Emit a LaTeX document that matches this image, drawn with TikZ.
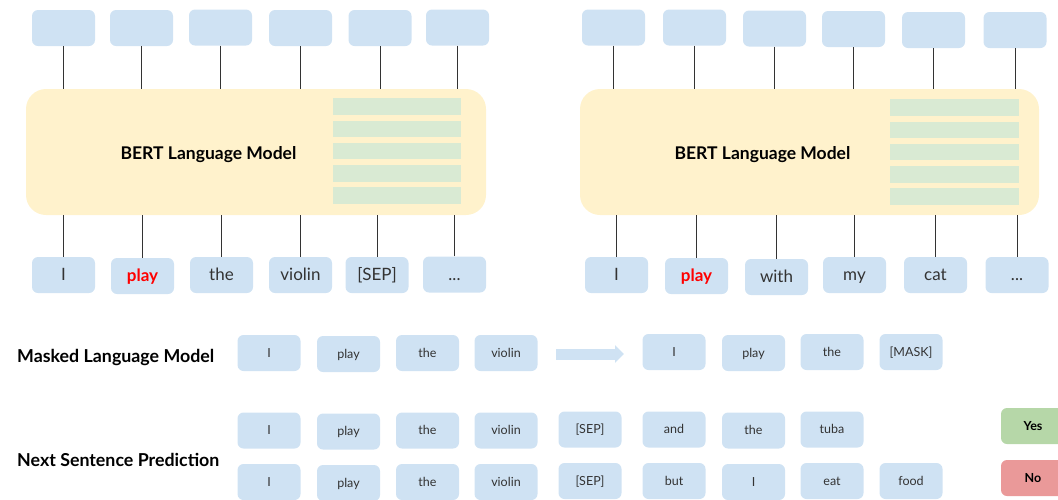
\documentclass[tikz,border=0pt]{standalone}
\usepackage{fontspec}
\setmainfont{Lato}
\usetikzlibrary{arrows.meta}
\definecolor{tokblue}{HTML}{CFE2F3}
\definecolor{modelyellow}{HTML}{FFF2CC}
\definecolor{layergreen}{HTML}{D9EAD3}
\definecolor{yesgreen}{HTML}{B6D7A8}
\definecolor{nored}{HTML}{EA9999}
\definecolor{inkgray}{HTML}{333333}
\definecolor{wordred}{HTML}{FF0000}
\tikzset{
  tokbox/.style={rectangle, rounded corners=6pt, fill=tokblue, minimum width=63pt,
    minimum height=36pt, inner sep=0pt, text=inkgray, font=\fontsize{17}{20}\selectfont,
    text height=12pt, text depth=1pt},
  smalltok/.style={tokbox, font=\fontsize{12.5}{15}\selectfont, text height=9pt, text depth=0.5pt},
  hot/.style={text=wordred, font=\fontsize{17}{20}\selectfont\bfseries},
  model/.style={rectangle, rounded corners=20pt, fill=modelyellow, minimum width=460pt,
    minimum height=126pt, inner sep=0pt},
  layer/.style={rectangle, fill=layergreen, minimum width=128pt, minimum height=16.5pt, inner sep=0pt},
  modeltitle/.style={font=\fontsize{17.5}{20}\selectfont\bfseries, text=black, inner sep=0pt,
    text height=12.5pt, text depth=0pt},
  tasktitle/.style={font=\fontsize{17.8}{20}\selectfont\bfseries, text=black, inner sep=0pt,
    anchor=west, text height=12.5pt, text depth=0pt},
  verdict/.style={rectangle, rounded corners=6pt, minimum width=64pt, minimum height=36pt,
    inner sep=0pt, font=\fontsize{12.5}{15}\selectfont\bfseries, text=black,
    text height=9pt, text depth=0pt},
  wire/.style={draw=inkgray, line width=1pt},
}
\begin{document}
\begin{tikzpicture}[x=1pt, y=-1pt]
\clip (0,0) rectangle (1058,499);

% ---------- left model: I play the violin [SEP] ...
\node[model] (mL) at (256,152) {};
\node[modeltitle] (mLt) at (208.5,153) {BERT Language Model};
\foreach \i/\yy in {1/106.5,2/129,3/151,4/173.5,5/195.5}
  \node[layer] (gL\i) at (397,\yy) {};

\node[tokbox] (oL1) at (63.5,28) {};
\node[tokbox] (oL2) at (141.5,28) {};
\node[tokbox] (oL3) at (220.5,27.5) {};
\node[tokbox] (oL4) at (300.5,28) {};
\node[tokbox] (oL5) at (380,28) {};
\node[tokbox] (oL6) at (457.5,27.5) {};

\node[tokbox] (iL1) at (63.5,275) {I};
\node[tokbox, hot] (iL2) at (142.5,276) {play};
\node[tokbox] (iL3) at (221.5,275) {the};
\node[tokbox] (iL4) at (300.5,275) {violin};
\node[tokbox] (iL5) at (377,275) {[SEP]};
\node[tokbox] (iL6) at (454.5,274.5) {...};

\foreach \i in {1,...,6} {
  \draw[wire] (oL\i.south) -- (oL\i.south |- mL.north);
  \draw[wire] (iL\i.north) -- (iL\i.north |- mL.south);
}

% ---------- right model: I play with my cat ...
\node[model, minimum width=459pt] (mR) at (809.5,152) {};
\node[modeltitle] (mRt) at (762.5,153) {BERT Language Model};
\foreach \i/\yy in {1/107.5,2/130,3/152,4/174.5,5/196.5}
  \node[layer, minimum width=129pt] (gR\i) at (954.5,\yy) {};

\node[tokbox] (oR1) at (613.5,27.5) {};
\node[tokbox] (oR2) at (694.5,27.5) {};
\node[tokbox] (oR3) at (774.5,28.5) {};
\node[tokbox] (oR4) at (853.5,29) {};
\node[tokbox] (oR5) at (933.5,30) {};
\node[tokbox] (oR6) at (1015,30) {};

\node[tokbox] (iR1) at (616.5,275) {I};
\node[tokbox, hot] (iR2) at (696.5,276) {play};
\node[tokbox] (iR3) at (776.5,277) {with};
\node[tokbox] (iR4) at (854.5,275) {my};
\node[tokbox] (iR5) at (935.5,275) {cat};
\node[tokbox] (iR6) at (1017,275) {...};

\foreach \i in {1,...,6} {
  \draw[wire] (oR\i.south) -- (oR\i.south |- mR.north);
  \draw[wire] (iR\i.north) -- (iR\i.north |- mR.south);
}

% ---------- masked language model task
\node[tasktitle] (mlm) at (17,356) {Masked Language Model};
\node[smalltok] (a1) at (269,353) {I};
\node[smalltok] (a2) at (348.5,354) {play};
\node[smalltok] (a3) at (427.5,353) {the};
\node[smalltok] (a4) at (506,353) {violin};

\coordinate (arrS) at (556,354);
\coordinate (arrE) at (624,354);
\draw[tokblue, line width=11pt, -{Triangle[length=9pt, width=17pt]}] (arrS) -- (arrE);

\node[smalltok] (m1) at (674,352) {I};
\node[smalltok] (m2) at (753.5,353) {play};
\node[smalltok] (m3) at (832,352) {the};
\node[smalltok] (m4) at (911,352) {[MASK]};

% ---------- next sentence prediction task
\node[tasktitle] (nsp) at (17,460) {Next Sentence Prediction};

\node[smalltok] (p1) at (269,430.5) {I};
\node[smalltok] (p2) at (348.5,431.5) {play};
\node[smalltok] (p3) at (427.5,430.5) {the};
\node[smalltok] (p4) at (506,430.5) {violin};
\node[smalltok] (p5) at (590,429.5) {[SEP]};
\node[smalltok] (p6) at (674,429.5) {and};
\node[smalltok] (p7) at (753.5,430.5) {the};
\node[smalltok] (p8) at (832,429.5) {tuba};

\node[smalltok] (q1) at (269,482) {I};
\node[smalltok] (q2) at (348.5,483) {play};
\node[smalltok] (q3) at (427.5,482) {the};
\node[smalltok] (q4) at (506,482) {violin};
\node[smalltok] (q5) at (590,481) {[SEP]};
\node[smalltok] (q6) at (674,481) {but};
\node[smalltok] (q7) at (753.5,482) {I};
\node[smalltok] (q8) at (832,481) {eat};
\node[smalltok] (q9) at (911,481) {food};

\node[verdict, fill=yesgreen] (yes) at (1033,426) {Yes};
\node[verdict, fill=nored] (no) at (1033,478) {No};
\end{tikzpicture}
\end{document}
